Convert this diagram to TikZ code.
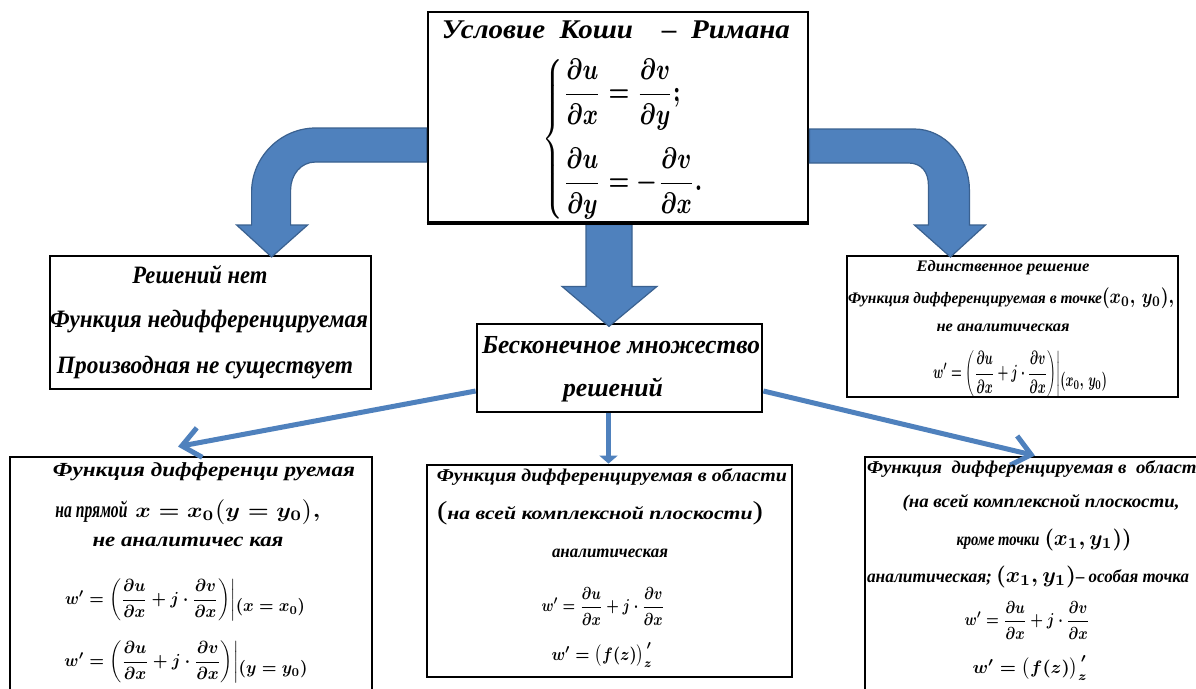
\RequirePackage{fix-cm}
\documentclass[tikz,border=0pt]{standalone}
\usepackage{amsmath}
\usepackage{graphicx}
\usepackage{fontspec}
\setmainfont{Liberation Serif}
\usetikzlibrary{arrows.meta}
\definecolor{arrowfill}{HTML}{4F81BD}
\definecolor{arrowedge}{HTML}{3A6190}
% squeeze or stretch a piece of text to a given width, keeping its height
\newcommand\fitw[2]{\resizebox{#1}{\height}{#2}}
% scale a formula to a given width and total height
\newcommand\fitwh[3]{\resizebox*{#1}{#2}{\boldmath#3}}
\newcommand\bi[1]{\fontsize{#1}{#1}\selectfont\bfseries\itshape}
\newcommand\mth[1]{\fontsize{#1}{#1}\selectfont\boldmath}
% evaluation bar with the point written beside it
\newcommand\atpt[1]{\biggr|\raisebox{-4pt}{$#1$}}
\tikzset{
  box/.style={draw=black, line width=2.8pt, fill=white, inner sep=0pt, rectangle},
  lbl/.style={inner sep=0pt, outer sep=0pt, anchor=center},
  blockarrow/.style={fill=arrowfill, draw=arrowedge, line width=1.2pt, line join=miter},
  link/.style={draw=arrowfill, line width=5pt,
    -{Straight Barb[length=18pt, width=30pt, line width=5pt]}},
  shortlink/.style={draw=arrowfill, line width=5pt,
    -{Triangle[length=8pt, width=18pt]}}
}
\begin{document}
\begin{tikzpicture}[x=1pt, y=-1pt]
\useasboundingbox (0,0) rectangle (1196,688);
\fill[white] (0,0) rectangle (1196,688);

% ---- boxes ----
\node[box, minimum width=380pt, minimum height=210pt] (top) at (618,117) {};
\node[box, minimum width=321pt, minimum height=133pt] (nosol) at (210.5,322.5) {};
\node[box, minimum width=331pt, minimum height=141pt] (uniq) at (1012.5,326.5) {};
\node[box, minimum width=285pt, minimum height=88pt] (inf) at (619.5,368) {};
\node[box, minimum width=362pt, minimum height=286pt] (line) at (191,600) {};
\node[box, minimum width=365pt, minimum height=212pt] (region) at (609.5,571) {};
\node[box, minimum width=400pt, minimum height=286pt] (except) at (1065,600) {};

% ---- block arrows out of the Cauchy-Riemann box ----
\begin{scope}[shift={(top.west)}]
  \filldraw[blockarrow] (0,11) -- (-111,11) .. controls (-146,11) and (-175,40) .. (-175,75)
    -- (-175,108) -- (-190,108) -- (-155,140) -- (-119,108) -- (-136,108) -- (-136,73)
    .. controls (-136,58) and (-126,45) .. (-111,45) -- (0,45) -- cycle;
\end{scope}
\begin{scope}[shift={(top.east)}]
  \filldraw[blockarrow] (0,12) -- (105,12) .. controls (135,12) and (160,40) .. (160,73)
    -- (160,108) -- (176,108) -- (141,140) -- (105,108) -- (119,108) -- (119,68)
    .. controls (119,55) and (112,46) .. (99,46) -- (0,46) -- cycle;
\end{scope}
\begin{scope}[shift={(top.south)}]
  \filldraw[blockarrow] (-32,1) -- (14,1) -- (14,63) -- (39,63) -- (-9,103) -- (-56,63)
    -- (-32,63) -- cycle;
\end{scope}
\draw[box, fill=none] (top.south west) -- (top.south east);

% ---- thin connectors from the middle box ----
\draw[link] ([yshift=-23pt]inf.west) -- ([xshift=-13pt, yshift=9pt]line.north);
\draw[link] ([yshift=-23pt]inf.east) -- ([xshift=-30pt]except.north);
\draw[shortlink] ([xshift=-11pt]inf.south) -- ([xshift=-1pt]region.north);

% ---- Cauchy-Riemann box ----
\node[lbl] (title) at (616,30) {\fitw{348pt}{\bi{27}Условие\enspace Коши\quad –\enspace Римана}};
\node[lbl] (cr) at (624,139) {\fitwh{162pt}{160pt}{$\displaystyle\left\{\begin{array}{@{}l@{}}
  \dfrac{\partial u}{\partial x}=\dfrac{\partial v}{\partial y};\\[12pt]
  \dfrac{\partial u}{\partial y}=-\dfrac{\partial v}{\partial x}.\end{array}\right.$}};

% ---- no solution ----
\node[lbl] (n1) at (200,275) {\fitw{135pt}{\bi{25}Решений нет}};
\node[lbl] (n2) at (209,322) {\fitw{318pt}{\bi{25}Функция недифференцируемая}};
\node[lbl] (n3) at (205,368) {\fitw{296pt}{\bi{25}Производная не существует}};

% ---- unique solution ----
\node[lbl] (u1) at (1003,268) {\fitw{173pt}{\bi{16}Единственное решение}};
\node[lbl] (u2) at (1011,298) {\fitw{254pt}{\bi{16}Функция дифференцируемая в точке}\fitwh{72pt}{21pt}{$(x_0,\,y_0),$}};
\node[lbl] (u3) at (1003,328) {\fitw{133pt}{\bi{16}не аналитическая}};
\node[lbl] (u4) at (1020,374) {\fitwh{174pt}{46pt}{$\displaystyle w'=\left(\frac{\partial u}{\partial x}+j\cdot\frac{\partial v}{\partial x}\right)\atpt{(x_0,\,y_0)}$}};

% ---- infinitely many solutions ----
\node[lbl] (i1) at (621,345) {\fitw{278pt}{\bi{26}Бесконечное множество}};
\node[lbl] (i2) at (613,390) {\fitw{100pt}{\bi{26}решений}};

% ---- differentiable on a line ----
\node[lbl] (l1) at (204,472) {\fitw{302pt}{\bi{20}Функция дифференци руемая}};
\node[lbl] (l2) at (188,512) {\fitw{72pt}{\bi{23}на прямой}\hspace{8pt}\fitwh{185pt}{25pt}{$x=x_0\bigl(y=y_0\bigr),$}};
\node[lbl] (l3) at (188,542) {\fitw{191pt}{\bi{20}не аналитичес кая}};
\node[lbl] (l4) at (185,600) {\fitwh{240pt}{42pt}{$\displaystyle w'=\left(\frac{\partial u}{\partial x}+j\cdot\frac{\partial v}{\partial x}\right)\atpt{(x=x_0)}$}};
\node[lbl] (l5) at (186,662) {\fitwh{243pt}{42pt}{$\displaystyle w'=\left(\frac{\partial u}{\partial x}+j\cdot\frac{\partial v}{\partial x}\right)\atpt{(y=y_0)}$}};

% ---- differentiable in a region ----
\node[lbl] (r1) at (612,477) {\fitw{350pt}{\bi{18}Функция дифференцируемая в области}};
\node[lbl] (r2) at (600,513) {\fitw{326pt}{{\fontsize{26}{26}\selectfont(}{\bi{18}на всей комплексной плоскости}{\fontsize{26}{26}\selectfont)}}};
\node[lbl] (r3) at (610,553) {\fitw{116pt}{\bi{18}аналитическая}};
\node[lbl] (r4) at (603,606) {\fitwh{123pt}{38pt}{$\displaystyle w'=\frac{\partial u}{\partial x}+j\cdot\frac{\partial v}{\partial x}$}};
\node[lbl] (r5) at (602,655) {\fitwh{101pt}{25pt}{$w'=\bigl(f(z)\bigr)_z^{\,\prime}$}};

% ---- differentiable except at a point ----
\node[lbl] (e1) at (1037,469) {\fitw{340pt}{\bi{18}Функция\enspace дифференцируемая в\enspace области}};
\node[lbl] (e2) at (1041,503) {\fitw{277pt}{\bi{18}(на всей комплексной плоскости,}};
\node[lbl] (e3) at (1044,540) {\fitw{83pt}{\bi{18}кроме точки}\hspace{5pt}\fitwh{87pt}{22pt}{$(x_1,y_1))$}};
\node[lbl] (e4) at (1028,577) {\fitw{125pt}{\bi{18}аналитическая;}\hspace{4pt}\fitwh{80pt}{22pt}{$(x_1,y_1)$}\fitw{113pt}{\bi{18}– особая точка}};
\node[lbl] (e5) at (1027,620) {\fitwh{125pt}{38pt}{$\displaystyle w'=\frac{\partial u}{\partial x}+j\cdot\frac{\partial v}{\partial x}$}};
\node[lbl] (e6) at (1030,668) {\fitwh{115pt}{25pt}{$w'=\bigl(f(z)\bigr)_z^{\,\prime}$}};
\end{tikzpicture}
\end{document}
